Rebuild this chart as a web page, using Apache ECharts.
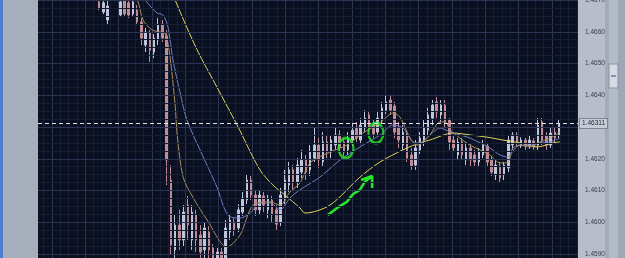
<!DOCTYPE html>
<html>
<head>
<meta charset="utf-8">
<script src="https://cdn.jsdelivr.net/npm/echarts@6/dist/echarts.min.js"></script>
<style>
	html, body { margin: 0; padding: 0; background: #0a1022; }
	#chart { width: 625px; height: 258px; }
</style>
</head>
<body>
<div id="chart"></div>
<script>
var slots = 128	// bar slots across the plot
var lead  = 14	// slot of the first visible bar

// price scale (right axis)
var yMin = 1.4580, yMax = 1.4680, yStep = 0.0010

// bars: [open, close, low, high]
var candles = [
	[1.46694, 1.46675, 1.46668, 1.46716], [1.46662, 1.46691, 1.46656, 1.46709],
	[1.46637, 1.46681, 1.46621, 1.46700], [1.46725, 1.46747, 1.46709, 1.46763],
	[1.46744, 1.46719, 1.46706, 1.46757], [1.46653, 1.46694, 1.46646, 1.46716],
	[1.46700, 1.46656, 1.46650, 1.46713], [1.46691, 1.46653, 1.46643, 1.46700],
	[1.46656, 1.46694, 1.46650, 1.46709], [1.46668, 1.46631, 1.46621, 1.46684],
	[1.46631, 1.46580, 1.46558, 1.46643], [1.46558, 1.46599, 1.46536, 1.46612],
	[1.46596, 1.46542, 1.46505, 1.46605], [1.46536, 1.46580, 1.46517, 1.46593],
	[1.46574, 1.46621, 1.46558, 1.46643], [1.46624, 1.46580, 1.46568, 1.46637],
	[1.46587, 1.46196, 1.46117, 1.46605], [1.46133, 1.45928, 1.45897, 1.46180],
	[1.45913, 1.45991, 1.45875, 1.46023], [1.45991, 1.45944, 1.45913, 1.46039],
	[1.45944, 1.46032, 1.45925, 1.46054], [1.46054, 1.45991, 1.45944, 1.46083],
	[1.45944, 1.46032, 1.45913, 1.46054], [1.46023, 1.45944, 1.45906, 1.46039],
	[1.45960, 1.45906, 1.45875, 1.45991], [1.45913, 1.45982, 1.45887, 1.46001],
	[1.45969, 1.45913, 1.45887, 1.45988], [1.45919, 1.45875, 1.45850, 1.45931],
	[1.45865, 1.45906, 1.45843, 1.45919], [1.45906, 1.45862, 1.45834, 1.45919],
	[1.45875, 1.45982, 1.45856, 1.46007], [1.45969, 1.46007, 1.45944, 1.46023],
	[1.46001, 1.45976, 1.45957, 1.46013], [1.45982, 1.46039, 1.45969, 1.46057],
	[1.46032, 1.46076, 1.46020, 1.46095], [1.46070, 1.46133, 1.46057, 1.46149],
	[1.46133, 1.46086, 1.46070, 1.46146], [1.46086, 1.46039, 1.46020, 1.46102],
	[1.46039, 1.46086, 1.46023, 1.46102], [1.46083, 1.46054, 1.46032, 1.46095],
	[1.46039, 1.46076, 1.46013, 1.46086], [1.46070, 1.46023, 1.46001, 1.46083],
	[1.46039, 1.45994, 1.45976, 1.46054], [1.46001, 1.46086, 1.45988, 1.46108],
	[1.46076, 1.46133, 1.46057, 1.46165], [1.46117, 1.46165, 1.46095, 1.46190],
	[1.46165, 1.46127, 1.46102, 1.46180], [1.46127, 1.46180, 1.46108, 1.46202],
	[1.46158, 1.46196, 1.46139, 1.46228], [1.46196, 1.46158, 1.46133, 1.46212],
	[1.46165, 1.46221, 1.46146, 1.46243], [1.46202, 1.46243, 1.46190, 1.46297],
	[1.46243, 1.46196, 1.46171, 1.46265], [1.46190, 1.46253, 1.46177, 1.46284],
	[1.46253, 1.46221, 1.46202, 1.46275], [1.46221, 1.46259, 1.46202, 1.46275],
	[1.46243, 1.46275, 1.46228, 1.46297], [1.46275, 1.46234, 1.46212, 1.46290],
	[1.46253, 1.46221, 1.46209, 1.46265], [1.46228, 1.46265, 1.46212, 1.46284],
	[1.46259, 1.46290, 1.46240, 1.46313], [1.46297, 1.46265, 1.46253, 1.46316],
	[1.46259, 1.46306, 1.46246, 1.46328], [1.46297, 1.46328, 1.46284, 1.46353],
	[1.46338, 1.46297, 1.46284, 1.46347], [1.46309, 1.46278, 1.46265, 1.46322],
	[1.46284, 1.46328, 1.46272, 1.46347], [1.46322, 1.46360, 1.46309, 1.46379],
	[1.46353, 1.46379, 1.46341, 1.46398], [1.46385, 1.46353, 1.46338, 1.46401],
	[1.46366, 1.46284, 1.46265, 1.46379], [1.46297, 1.46259, 1.46234, 1.46316],
	[1.46243, 1.46284, 1.46228, 1.46306], [1.46275, 1.46202, 1.46190, 1.46290],
	[1.46212, 1.46177, 1.46165, 1.46234], [1.46180, 1.46234, 1.46165, 1.46259],
	[1.46228, 1.46265, 1.46215, 1.46284], [1.46259, 1.46297, 1.46240, 1.46322],
	[1.46290, 1.46338, 1.46275, 1.46360], [1.46328, 1.46369, 1.46306, 1.46385],
	[1.46379, 1.46347, 1.46328, 1.46394], [1.46338, 1.46369, 1.46316, 1.46385],
	[1.46369, 1.46316, 1.46297, 1.46385], [1.46322, 1.46253, 1.46228, 1.46328],
	[1.46259, 1.46234, 1.46221, 1.46275], [1.46212, 1.46253, 1.46196, 1.46265],
	[1.46253, 1.46212, 1.46196, 1.46265], [1.46196, 1.46234, 1.46180, 1.46253],
	[1.46234, 1.46196, 1.46177, 1.46246], [1.46212, 1.46190, 1.46177, 1.46228],
	[1.46190, 1.46221, 1.46177, 1.46234], [1.46212, 1.46243, 1.46202, 1.46259],
	[1.46240, 1.46190, 1.46177, 1.46250], [1.46196, 1.46158, 1.46146, 1.46209],
	[1.46149, 1.46180, 1.46133, 1.46196], [1.46177, 1.46139, 1.46127, 1.46190],
	[1.46149, 1.46180, 1.46133, 1.46190], [1.46171, 1.46259, 1.46158, 1.46275],
	[1.46243, 1.46275, 1.46228, 1.46284], [1.46275, 1.46253, 1.46240, 1.46284],
	[1.46240, 1.46259, 1.46234, 1.46268], [1.46259, 1.46240, 1.46228, 1.46265],
	[1.46240, 1.46259, 1.46231, 1.46272], [1.46256, 1.46237, 1.46228, 1.46265],
	[1.46243, 1.46306, 1.46228, 1.46328], [1.46316, 1.46259, 1.46243, 1.46328],
	[1.46272, 1.46243, 1.46228, 1.46284], [1.46243, 1.46281, 1.46234, 1.46297],
	[1.46284, 1.46265, 1.46250, 1.46297], [1.46275, 1.46311, 1.46265, 1.46325]
]

// moving averages: [slot, price]
var maFast = [
	[20.8, 1.46725], [23.0, 1.46700], [24.4, 1.46637], [26.5, 1.46606], [28.4, 1.46599],
	[29.6, 1.46596], [30.8, 1.46520], [32.0, 1.46369], [32.5, 1.46275], [33.9, 1.46142],
	[36.2, 1.46079], [39.6, 1.46007], [44.3, 1.45922], [47.4, 1.45960], [50.5, 1.46054],
	[54.5, 1.46064], [56.9, 1.46054], [59.2, 1.46095], [61.6, 1.46124], [64.0, 1.46187],
	[68.7, 1.46221], [72.7, 1.46243], [76.5, 1.46281], [80.6, 1.46313], [83.6, 1.46344],
	[85.3, 1.46331], [87.7, 1.46265], [89.3, 1.46243], [90.8, 1.46253], [92.4, 1.46275],
	[94.8, 1.46316], [96.0, 1.46316], [97.2, 1.46291], [99.5, 1.46265], [101.9, 1.46243],
	[104.3, 1.46228], [106.6, 1.46212], [109.0, 1.46187], [110.7, 1.46187], [111.9, 1.46221],
	[113.8, 1.46243], [116.1, 1.46237], [118.5, 1.46253], [120.9, 1.46265], [123.2, 1.46284]
]
var maMid = [
	[22.5, 1.46747], [24.9, 1.46700], [27.7, 1.46659], [29.1, 1.46653], [30.3, 1.46615],
	[31.5, 1.46511], [33.2, 1.46407], [34.8, 1.46322], [37.9, 1.46228], [41.9, 1.46111],
	[44.5, 1.46023], [47.4, 1.46013], [49.8, 1.46029], [52.2, 1.46061], [54.5, 1.46061],
	[56.9, 1.46039], [59.2, 1.46076], [61.6, 1.46102], [66.3, 1.46142], [71.1, 1.46196],
	[75.8, 1.46237], [80.6, 1.46275], [83.6, 1.46306], [86.0, 1.46297], [88.4, 1.46253],
	[90.0, 1.46250], [92.4, 1.46275], [94.8, 1.46297], [97.2, 1.46284], [99.5, 1.46275],
	[101.9, 1.46265], [104.3, 1.46250], [106.6, 1.46234], [109.0, 1.46212], [110.9, 1.46205],
	[112.1, 1.46234], [113.8, 1.46243], [116.1, 1.46243], [118.5, 1.46250], [120.9, 1.46253],
	[123.2, 1.46265]
]
var maSlow = [
	[30.8, 1.46747], [32.0, 1.46700], [37.2, 1.46543], [41.9, 1.46426], [46.7, 1.46306],
	[52.1, 1.46165], [55.2, 1.46117], [58.0, 1.46086], [61.6, 1.46045], [62.8, 1.46029],
	[68.7, 1.46054], [75.8, 1.46142], [80.6, 1.46190], [86.0, 1.46228], [90.0, 1.46250],
	[92.4, 1.46259], [97.9, 1.46281], [101.9, 1.46275], [105.9, 1.46268], [109.7, 1.46259],
	[113.8, 1.46250], [117.8, 1.46237], [121.6, 1.46250], [123.2, 1.46253]
]

// green hand drawn marks: [slot, price]
var rings = [[72.5, 1.46234], [79.6, 1.46281]]
var arrowShaft = [
	[68.2, 1.46023], [70.4, 1.46045], [72.7, 1.46064], [74.2, 1.46089],
	[75.8, 1.46102], [76.8, 1.46124], [77.7, 1.46136], [78.7, 1.46142]
]
var arrowHead = [[76.1, 1.46133], [78.7, 1.46146], [78.7, 1.46108]]

var cUp = '#c0c5dd', cDown = '#c28c96'
var gMajor = '#2b3552', gMinor = '#161e34'
var green = '#25e82a'
var font = 'Liberation Sans, Arial, sans-serif'

var chart = echarts.init(document.getElementById('chart'))
var lastClose = candles[candles.length - 1][1]

function maLine(data, color) {
	return {
		type: 'line', xAxisIndex: 0, yAxisIndex: 0,
		data: data, smooth: 0.3, symbol: 'none', silent: true,
		lineStyle: { color: color, width: 1 }, z: 3
	}
}

function greenLine(data) {
	return {
		type: 'line', xAxisIndex: 0, yAxisIndex: 0,
		data: data, symbol: 'none', silent: true,
		lineStyle: { color: green, width: 2.6, type: 'solid' }, z: 6
	}
}

// last price line with its tag on the axis
var lastLine = maLine(maFast, '#a8905c')
lastLine.markLine = {
	z: 70, silent: true, symbol: ['none', 'none'], animation: false, precision: 5,
	lineStyle: { color: '#dfe3ee', type: [4, 3], width: 1 },
	label: {
		show: true, position: 'end', distance: 2,
		formatter: function(p) { return lastClose.toFixed(5) },
		color: '#1e2432', fontSize: 6.5, fontFamily: font,
		backgroundColor: '#c6ccd6', borderColor: '#7c8595', borderWidth: 1,
		padding: [1, 2, 1, 2]
	},
	data: [{ yAxis: lastClose }]
}

var option = {
	animation: false,
	backgroundColor: '#0a1022',
	grid: [
		{ left: 38, right: 47, top: -31.75, height: 317.5, outerBoundsMode: 'none', containLabel: false },
		// only carries the vertical grid lines
		{ left: 18.67, right: 47, top: -31.75, height: 317.5, outerBoundsMode: 'none', containLabel: false }
	],
	xAxis: [{
		type: 'value', gridIndex: 0, min: -0.5, max: slots - 0.5, show: false
	}, {
		type: 'value', gridIndex: 1, min: 0, max: 16.78, interval: 1,
		axisLine: { show: false }, axisTick: { show: false }, axisLabel: { show: false },
		splitLine: { show: true, lineStyle: { color: gMajor, width: 1 } },
		minorTick: { show: false, splitNumber: 4 },
		minorSplitLine: { show: true, lineStyle: { color: gMinor, width: 1 } }
	}],
	yAxis: [{
		type: 'value', gridIndex: 0, position: 'right',
		min: yMin, max: yMax, interval: yStep, z: 60,
		axisLine: { show: false }, axisTick: { show: false },
		axisLabel: {
			color: '#39404f', fontSize: 6.5, margin: 7, fontFamily: font,
			formatter: function(v) { return v.toFixed(4) }
		},
		splitLine: { show: true, lineStyle: { color: gMajor, width: 1 } },
		minorTick: { show: false, splitNumber: 4 },
		minorSplitLine: { show: true, lineStyle: { color: gMinor, width: 1 } }
	}, {
		type: 'value', gridIndex: 1, min: yMin, max: yMax, show: false
	}],
	graphic: [
		{ type: 'rect', z: 50, shape: { x: 0, y: 0, width: 38, height: 258 }, style: { fill: '#a7afbd' } },
		{ type: 'rect', z: 51, shape: { x: 0, y: 0, width: 3, height: 258 }, style: { fill: '#4d7ccd' } },
		{ type: 'rect', z: 50, shape: { x: 578, y: 0, width: 47, height: 258 }, style: { fill: '#b7bec9' } },
		{ type: 'rect', z: 51, shape: { x: 605, y: 0, width: 4, height: 258 }, style: { fill: '#a3abb8' } },
		{ type: 'rect', z: 51, shape: { x: 609, y: 0, width: 9, height: 258 }, style: { fill: '#b4bbc6' } },
		{ type: 'rect', z: 51, shape: { x: 618, y: 0, width: 7, height: 258 }, style: { fill: '#9ea7b5' } },
		{ type: 'rect', z: 52, shape: { x: 609, y: 64, width: 9, height: 24 }, style: { fill: '#d6dbe3', stroke: '#8a93a3', lineWidth: 1 } },
		{ type: 'rect', z: 53, shape: { x: 611, y: 75, width: 5, height: 2 }, style: { fill: '#8a93a3' } }
	],
	series: [{
		type: 'candlestick', xAxisIndex: 0, yAxisIndex: 0,
		data: candles.map(function(c, k) { return [k + lead, c[0], c[1], c[2], c[3]] }),
		encode: { x: 0, y: [1, 2, 3, 4] },
		barWidth: 2,
		itemStyle: { color: cUp, color0: cDown, borderColor: cUp, borderColor0: cDown, borderWidth: 1 }
	},
	maLine(maSlow, '#ddd45a'),
	maLine(maMid, '#6f7ec2'),
	lastLine,
	{
		type: 'scatter', xAxisIndex: 0, yAxisIndex: 0, data: rings, silent: true, z: 6,
		symbol: 'circle', symbolSize: [15, 20],
		itemStyle: { color: 'transparent', borderColor: green, borderWidth: 2.5 }
	},
	greenLine(arrowShaft),
	greenLine(arrowHead)
	]
}

chart.setOption(option)
</script>
</body>
</html>
